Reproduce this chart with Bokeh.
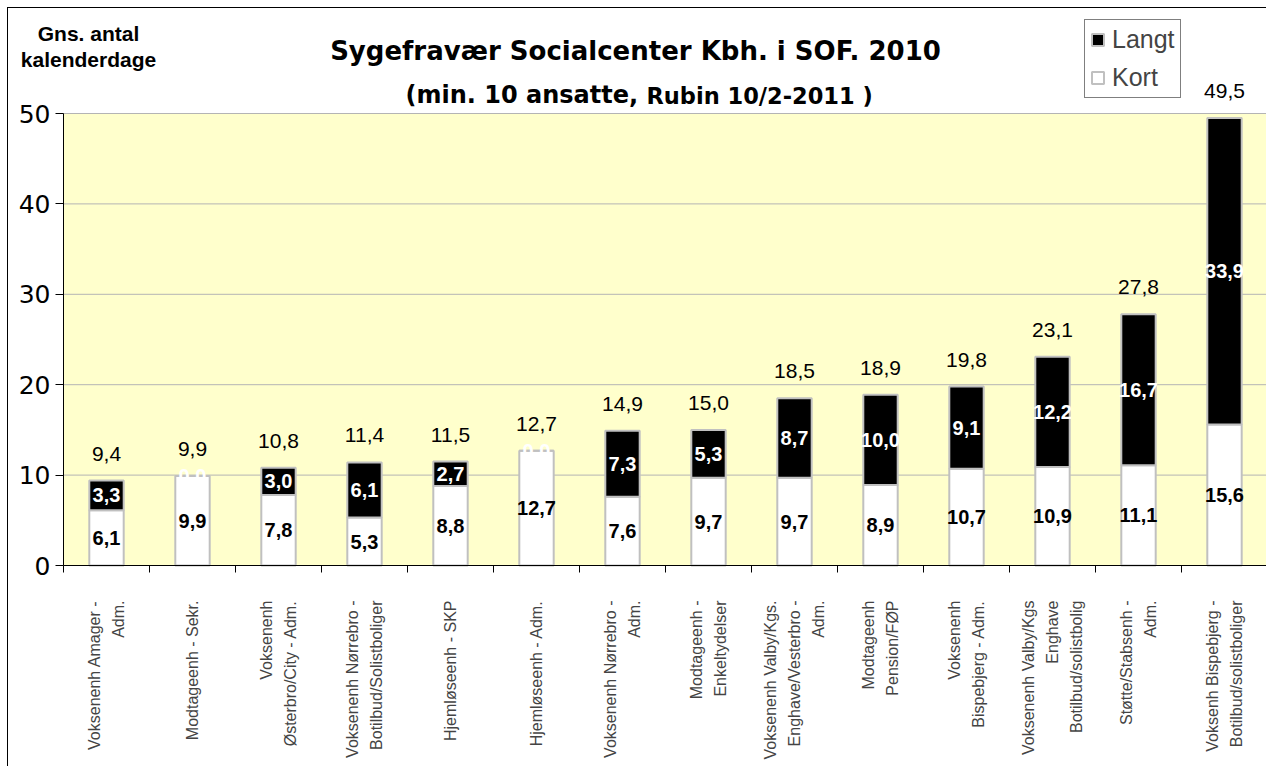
import math
from bokeh.plotting import figure
from bokeh.models import (ColumnDataSource, Range1d, FixedTicker, Label, Legend,
                          LegendItem, LinearAxis)
from bokeh.core.properties import value
from bokeh.embed import file_html
from bokeh.resources import INLINE

# ---- data ----
categories = [
    "Voksenenh Amager -\nAdm.",
    "Modtageenh - Sekr.",
    "Voksenenh\nØsterbro/City - Adm.",
    "Voksenenh Nørrebro -\nBotilbud/Solistboliger",
    "Hjemløseenh - SKP",
    "Hjemløseenh - Adm.",
    "Voksenenh Nørrebro -\nAdm.",
    "Modtageenh -\nEnkeltydelser",
    "Voksenenh Valby/Kgs.\nEnghave/Vesterbro -\nAdm.",
    "Modtageenh\nPension/FØP",
    "Voksenenh\nBispebjerg - Adm.",
    "Voksenenh Valby/Kgs\nEnghave\nBotilbud/solistbolig",
    "Støtte/Stabsenh -\nAdm.",
    "Voksenh Bispebjerg -\nBotilbud/solistboliger",
]
kort = [6.1, 9.9, 7.8, 5.3, 8.8, 12.7, 7.6, 9.7, 9.7, 8.9, 10.7, 10.9, 11.1, 15.6]
langt = [3.3, 0.0, 3.0, 6.1, 2.7, 0.0, 7.3, 5.3, 8.7, 10.0, 9.1, 12.2, 16.7, 33.9]
total = [9.4, 9.9, 10.8, 11.4, 11.5, 12.7, 14.9, 15.0, 18.5, 18.9, 19.8, 23.1, 27.8, 49.5]
y_ticks = [0, 10, 20, 30, 40, 50]
y_max = 50

FONT = "Liberation Sans"
WIDE = "DejaVu Sans"


def fmt(v):
    return f"{v:.1f}".replace(".", ",")


n = len(categories)
xs = list(range(1, n + 1))
src = ColumnDataSource(dict(
    x=xs, kort=kort, langt=langt, total=total,
    kort_mid=[k / 2 for k in kort],
    langt_mid=[k + l / 2 for k, l in zip(kort, langt)],
    kort_lbl=[fmt(v) for v in kort],
    langt_lbl=[fmt(v) for v in langt],
    total_lbl=[fmt(v) for v in total],
))

# ---- layout (page pixels) ----
ORG = 8                     # canvas origin on page (after 7px margin + 1px border)
W, H = 1259, 759
PAGE_B = ORG + H
PLOT_L, PLOT_T, PLOT_B = 63, 113, 565   # plot area left / top / bottom on page
CAT_W = (ORG + W - PLOT_L) / n          # px per category
PX_Y = (PLOT_B - PLOT_T) / y_max        # px per unit

x_start = 0.5 - (PLOT_L - ORG) / CAT_W
y_start = -(PAGE_B - PLOT_B) / PX_Y
y_end = (PLOT_B - ORG) / PX_Y


def dx(px):
    return x_start + (px - ORG) / CAT_W


def dy(py):
    return (PLOT_B - py) / PX_Y


p = figure(width=W, height=H, output_backend="svg", toolbar_location=None,
           x_range=Range1d(x_start, n + 0.5), y_range=Range1d(y_start, y_end),
           min_border_left=0, min_border_right=0, min_border_top=0,
           min_border_bottom=0, x_axis_type=None, y_axis_type=None)
p.styles = {"border-top": "1px solid black", "border-left": "1px solid black",
            "margin-left": "7px", "margin-top": "7px"}
p.background_fill_color = "white"
p.border_fill_color = "white"
p.outline_line_color = None
p.grid.visible = False

# plot-area background and gridlines
p.quad(left=0.5, right=n + 0.5, bottom=0, top=y_max, fill_color="#FFFFCC",
       line_color=None, level="image")
p.segment(x0=0.5, x1=n + 0.5, y0=y_ticks[1:], y1=y_ticks[1:],
          line_color="#b4b4b4", line_width=1, level="image")

# axes
yax = LinearAxis(ticker=FixedTicker(ticks=y_ticks), fixed_location=0.5, bounds=(0, y_max))
yax.axis_line_color = "black"
yax.major_tick_in = 0
yax.major_tick_out = 8
yax.minor_tick_line_color = None
yax.major_label_text_font = WIDE
yax.major_label_text_font_size = "25px"
yax.major_label_text_color = "black"
yax.major_label_standoff = 5
p.add_layout(yax, "left")

xax = LinearAxis(ticker=FixedTicker(ticks=xs, minor_ticks=[i + 0.5 for i in range(0, n + 1)]),
                 bounds=(0.5, n + 0.5), fixed_location=0)
xax.major_label_overrides = {i: c for i, c in zip(xs, categories)}
xax.major_label_orientation = math.pi / 2
xax.major_label_text_align = "center"
xax.major_tick_line_color = None
xax.major_tick_in = 0
xax.major_tick_out = 0
xax.minor_tick_in = 0
xax.minor_tick_out = 7
xax.minor_tick_line_color = "black"
xax.axis_line_color = "black"
xax.major_label_text_font = FONT
xax.major_label_text_font_size = "16px"
xax.major_label_text_line_height = 1.4
xax.major_label_standoff = 28
p.add_layout(xax, "below")

# bars
r_kort = p.vbar(x="x", bottom=0, top="kort", width=0.4, source=src,
                fill_color="white", line_color="#c0c0c0", line_width=2)
r_langt = p.vbar(x="x", bottom="kort", top="total", width=0.4, source=src,
                 fill_color="black", line_color="#c0c0c0", line_width=2)

# value labels
p.text(x="x", y="kort_mid", text="kort_lbl", source=src, text_align="center",
       text_baseline="middle", text_font=value(FONT), text_font_style="bold",
       text_font_size="20px", text_color="black")
p.text(x="x", y="langt_mid", text="langt_lbl", source=src, text_align="center",
       text_baseline="middle", text_font=value(FONT), text_font_style="bold",
       text_font_size="20px", text_color="white")
p.text(x="x", y="total", text="total_lbl", source=src, text_align="center",
       text_baseline="middle", y_offset=-27, text_font=value(FONT),
       text_font_size="21px", text_color="black")

# titles (text centre positions on page)
for txt, px, py, font, size, align in [
    ("Sygefravær Socialcenter Kbh. i SOF. 2010", 635, 50, WIDE, "26px", "center"),
    ("(min. 10 ansatte, ", 646, 94, WIDE, "24px", "right"),
    ("Rubin 10/2-2011 )", 646, 95, WIDE, "22.5px", "left"),
    ("Gns. antal", 88, 33, FONT, "21px", "center"),
    ("kalenderdage", 88, 59, FONT, "21px", "center"),
]:
    p.add_layout(Label(x=dx(px), y=dy(py), text=txt, text_align=align,
                       text_baseline="middle", text_font=font,
                       text_font_style="bold", text_font_size=size,
                       text_color="black"))

legend = Legend(items=[LegendItem(label="Langt", renderers=[r_langt]),
                       LegendItem(label="Kort", renderers=[r_kort])],
                location=(1084 - ORG, PAGE_B - 98))
legend.label_text_font = FONT
legend.label_text_font_size = "25px"
legend.label_height = 24
legend.glyph_height = 15
legend.glyph_width = 15
legend.spacing = 9
legend.padding = 5
legend.margin = 0
legend.label_standoff = 7
legend.border_line_color = "black"
legend.border_line_width = 1
legend.background_fill_color = "white"
legend.background_fill_alpha = 1
p.add_layout(legend, "center")

open("out.html", "w").write(file_html(p, INLINE))
